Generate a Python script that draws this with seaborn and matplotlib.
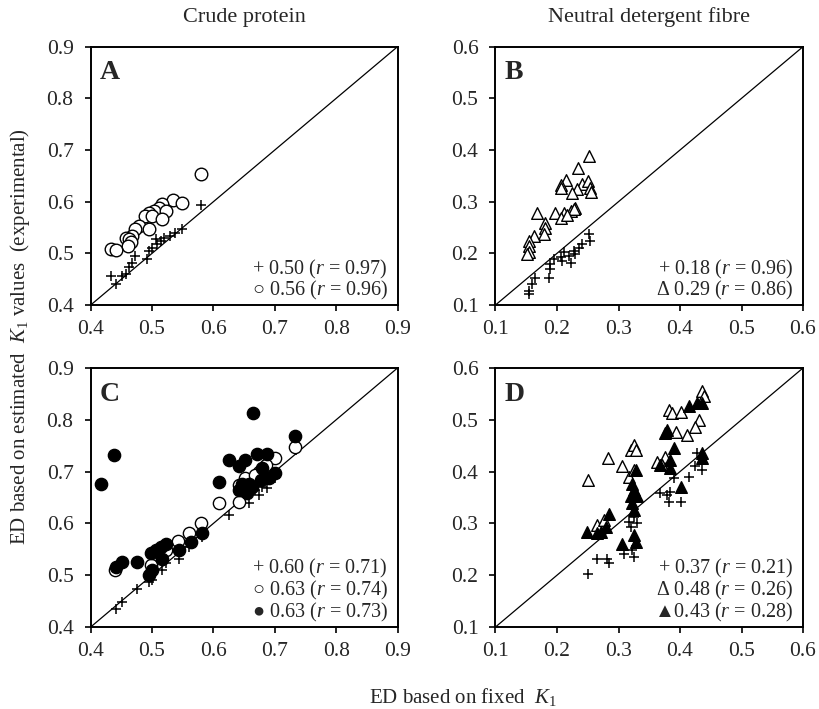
import numpy as np
import pandas as pd
import matplotlib
matplotlib.use("Agg")
import matplotlib.pyplot as plt
import seaborn as sns

sns.set_theme(style="ticks")
plt.rcParams['font.family'] = ['Liberation Serif', 'DejaVu Serif', 'DejaVu Sans']
plt.rcParams['mathtext.fontset'] = 'custom'
plt.rcParams['mathtext.rm'] = 'Liberation Serif'
plt.rcParams['mathtext.it'] = 'Liberation Serif:italic'

# ---------------- Data ----------------
# Panel A (crude protein)
A_plus_x = [0.580, 0.548, 0.538, 0.530, 0.519, 0.514, 0.506, 0.508, 0.500, 0.495, 0.492, 0.473, 0.468, 0.462, 0.457, 0.433, 0.441, 0.451]
A_plus_y = [0.593, 0.547, 0.540, 0.534, 0.530, 0.524, 0.527, 0.518, 0.511, 0.505, 0.489, 0.495, 0.482, 0.473, 0.460, 0.457, 0.440, 0.457]
A_circ_x = [0.580, 0.534, 0.548, 0.517, 0.511, 0.503, 0.495, 0.522, 0.489, 0.500, 0.517, 0.479, 0.495, 0.473, 0.468, 0.457, 0.462, 0.465, 0.460, 0.433, 0.441]
A_circ_y = [0.653, 0.604, 0.598, 0.595, 0.588, 0.582, 0.579, 0.582, 0.572, 0.572, 0.566, 0.553, 0.547, 0.547, 0.534, 0.530, 0.527, 0.521, 0.514, 0.508, 0.507]

# Panel B (NDF)
B_plus_x = [0.252, 0.254, 0.241, 0.236, 0.227, 0.230, 0.219, 0.211, 0.206, 0.208, 0.195, 0.189, 0.189, 0.187, 0.165, 0.160, 0.154, 0.154, 0.222]
B_plus_y = [0.237, 0.224, 0.218, 0.211, 0.205, 0.198, 0.195, 0.202, 0.192, 0.185, 0.189, 0.179, 0.169, 0.153, 0.153, 0.140, 0.128, 0.121, 0.182]
B_tri_x = [0.252, 0.234, 0.215, 0.206, 0.206, 0.241, 0.250, 0.253, 0.256, 0.233, 0.225, 0.168, 0.197, 0.211, 0.222, 0.230, 0.227, 0.206, 0.216, 0.181, 0.181, 0.179, 0.162, 0.154, 0.154, 0.154, 0.151]
B_tri_y = [0.389, 0.365, 0.342, 0.333, 0.327, 0.335, 0.340, 0.327, 0.319, 0.324, 0.316, 0.279, 0.279, 0.279, 0.282, 0.288, 0.285, 0.269, 0.275, 0.259, 0.250, 0.237, 0.234, 0.224, 0.214, 0.203, 0.198]

# Panel C (crude protein)
C_plus_x = [0.734, 0.701, 0.687, 0.674, 0.658, 0.644, 0.625, 0.582, 0.560, 0.544, 0.522, 0.517, 0.500, 0.495, 0.476, 0.451, 0.441, 0.668, 0.679]
C_plus_y = [0.742, 0.687, 0.668, 0.655, 0.639, 0.642, 0.616, 0.574, 0.555, 0.532, 0.523, 0.510, 0.490, 0.487, 0.474, 0.448, 0.435, 0.665, 0.671]
C_open_x = [0.733, 0.701, 0.685, 0.674, 0.652, 0.641, 0.641, 0.609, 0.580, 0.561, 0.542, 0.522, 0.498, 0.439, 0.668]
C_open_y = [0.748, 0.726, 0.713, 0.700, 0.687, 0.674, 0.642, 0.639, 0.600, 0.581, 0.566, 0.548, 0.519, 0.510, 0.694]
C_fill_x = [0.664, 0.438, 0.416, 0.733, 0.625, 0.641, 0.652, 0.671, 0.687, 0.609, 0.679, 0.701, 0.690, 0.677, 0.658, 0.641, 0.655, 0.663, 0.647,
            0.582, 0.563, 0.544, 0.522, 0.514, 0.506, 0.498, 0.517, 0.500, 0.495, 0.476, 0.451, 0.441]
C_fill_y = [0.813, 0.732, 0.677, 0.769, 0.723, 0.710, 0.723, 0.734, 0.734, 0.679, 0.706, 0.697, 0.687, 0.684, 0.677, 0.665, 0.658, 0.671, 0.677,
            0.582, 0.565, 0.548, 0.561, 0.555, 0.548, 0.542, 0.532, 0.510, 0.500, 0.526, 0.526, 0.516]

# Panel D (NDF)
D_plus_x = [0.250, 0.265, 0.282, 0.284, 0.309, 0.325, 0.322, 0.317, 0.320, 0.325, 0.330, 0.368, 0.379, 0.382, 0.383, 0.401, 0.390, 0.414, 0.425, 0.436, 0.428]
D_plus_y = [0.202, 0.232, 0.232, 0.223, 0.241, 0.235, 0.248, 0.303, 0.294, 0.313, 0.300, 0.358, 0.355, 0.342, 0.361, 0.342, 0.387, 0.390, 0.410, 0.403, 0.435]
D_open_x = [0.250, 0.283, 0.306, 0.320, 0.325, 0.328, 0.317, 0.325, 0.382, 0.387, 0.401, 0.436, 0.439, 0.431, 0.425, 0.412, 0.393, 0.363, 0.376, 0.265, 0.276, 0.371]
D_open_y = [0.383, 0.426, 0.410, 0.442, 0.452, 0.442, 0.390, 0.403, 0.519, 0.513, 0.516, 0.555, 0.545, 0.500, 0.487, 0.471, 0.477, 0.419, 0.429, 0.297, 0.306, 0.413]
D_fill_x = [0.414, 0.428, 0.436, 0.379, 0.376, 0.390, 0.384, 0.368, 0.384, 0.436, 0.436, 0.401, 0.328, 0.322, 0.325, 0.320, 0.322, 0.325, 0.284,
            0.279, 0.271, 0.265, 0.249, 0.306, 0.325, 0.328, 0.330]
D_fill_y = [0.526, 0.532, 0.532, 0.481, 0.474, 0.445, 0.423, 0.413, 0.406, 0.435, 0.426, 0.371, 0.403, 0.377, 0.365, 0.352, 0.339, 0.326, 0.319,
            0.294, 0.284, 0.281, 0.284, 0.261, 0.277, 0.265, 0.352]

panel_letters = ["A", "B", "C", "D"]
col_titles = ["Crude protein", "Neutral detergent fibre"]
cp_ticks = [0.4, 0.5, 0.6, 0.7, 0.8, 0.9]
ndf_ticks = [0.1, 0.2, 0.3, 0.4, 0.5, 0.6]

A_labels = [("+ ", "0.50", "0.97"), ("\u25cb ", "0.56", "0.96")]
B_labels = [("+ ", "0.18", "0.96"), ("\u0394 ", "0.29", "0.86")]
C_labels = [("+ ", "0.60", "0.71"), ("\u25cb ", "0.63", "0.74"), ("\u25cf ", "0.63", "0.73")]
D_labels = [("+ ", "0.37", "0.21"), ("\u0394 ", "0.48", "0.26"), ("\u25b2", "0.43", "0.28")]

# ---------------- Figure ----------------
fig = plt.figure(figsize=(8.19, 7.09), dpi=100)
W, H = 819.0, 709.0
L1, R1 = 90.7 / W, 397.5 / W
L2, R2 = 495.5 / W, 803.0 / W
T1, B1 = 1 - 46.7 / H, 1 - 305.0 / H
T2, B2 = 1 - 368.0 / H, 1 - 627.0 / H
axA = fig.add_axes([L1, B1, R1 - L1, T1 - B1])
axB = fig.add_axes([L2, B1, R2 - L2, T1 - B1])
axC = fig.add_axes([L1, B2, R1 - L1, T2 - B2])
axD = fig.add_axes([L2, B2, R2 - L2, T2 - B2])


def plus(ax, x, y):
    sns.scatterplot(x=x, y=y, ax=ax, marker="+", color="black", s=55, linewidth=1.1, zorder=3)


def circ(ax, x, y, filled, s=78):
    sns.scatterplot(x=x, y=y, ax=ax, marker="o", s=s, facecolor="black" if filled else "white",
                    edgecolor="black", linewidth=1.0, zorder=4 if filled else 3)


def tri(ax, x, y, filled, s=70):
    sns.scatterplot(x=x, y=y, ax=ax, marker="^", s=s, facecolor="black" if filled else "white",
                    edgecolor="black", linewidth=1.0, zorder=4 if filled else 3)


# A
plus(axA, A_plus_x, A_plus_y)
circ(axA, A_circ_x, A_circ_y, False, s=82)
# B
plus(axB, B_plus_x, B_plus_y)
tri(axB, B_tri_x, B_tri_y, False)
# C
plus(axC, C_plus_x, C_plus_y)
circ(axC, C_open_x, C_open_y, False)
circ(axC, C_fill_x, C_fill_y, True)
# D
plus(axD, D_plus_x, D_plus_y)
tri(axD, D_open_x, D_open_y, False)
tri(axD, D_fill_x, D_fill_y, True)

for ax, ticks, letter, labels in [(axA, cp_ticks, "A", A_labels), (axB, ndf_ticks, "B", B_labels),
                                  (axC, cp_ticks, "C", C_labels), (axD, ndf_ticks, "D", D_labels)]:
    lo, hi = ticks[0], ticks[-1]
    ax.plot([lo, hi], [lo, hi], color="black", linewidth=0.9, zorder=2)
    ax.set_xlim(lo, hi)
    ax.set_ylim(lo, hi)
    ax.set_xticks(ticks)
    ax.set_yticks(ticks)
    ax.set_xticklabels([f"{t:.1f}" for t in ticks])
    ax.set_yticklabels([f"{t:.1f}" for t in ticks])
    ax.tick_params(direction="out", length=4.3, width=1.2, labelsize=15.5, color="black")
    ax.tick_params(axis="x", pad=6.5)
    ax.tick_params(axis="y", pad=8)
    for sp in ax.spines.values():
        sp.set_visible(True)
        sp.set_linewidth(1.4)
        sp.set_color("black")
    ax.set_xlabel("")
    ax.set_ylabel("")
    ax.text(0.030, 0.874, letter, transform=ax.transAxes, fontsize=20, fontweight="bold",
            va="baseline", ha="left")
    n = len(labels)
    for i, (sym, val, r) in enumerate(labels):
        ax.text(0.969, 0.035 + (n - 1 - i) * 0.085, f"{sym}{val} ($r$ = {r})",
                transform=ax.transAxes, fontsize=14.5, ha="right", va="baseline")

fig.text((L1 + R1) / 2, 1 - 22 / H, col_titles[0], ha="center", va="baseline", fontsize=16)
fig.text((L2 + R2) / 2, 1 - 22 / H, col_titles[1], ha="center", va="baseline", fontsize=16)
fig.text(463 / W, 1 - 703 / H, r"ED based on fixed  $K_1$", ha="center", va="baseline", fontsize=15)
fig.text(20 / W, (T1 + B2) / 2, r"ED based on estimated  $K_1$ values  (experimental)", rotation=90,
         ha="center", va="center", fontsize=15)

fig.savefig("out.png", dpi=100)
